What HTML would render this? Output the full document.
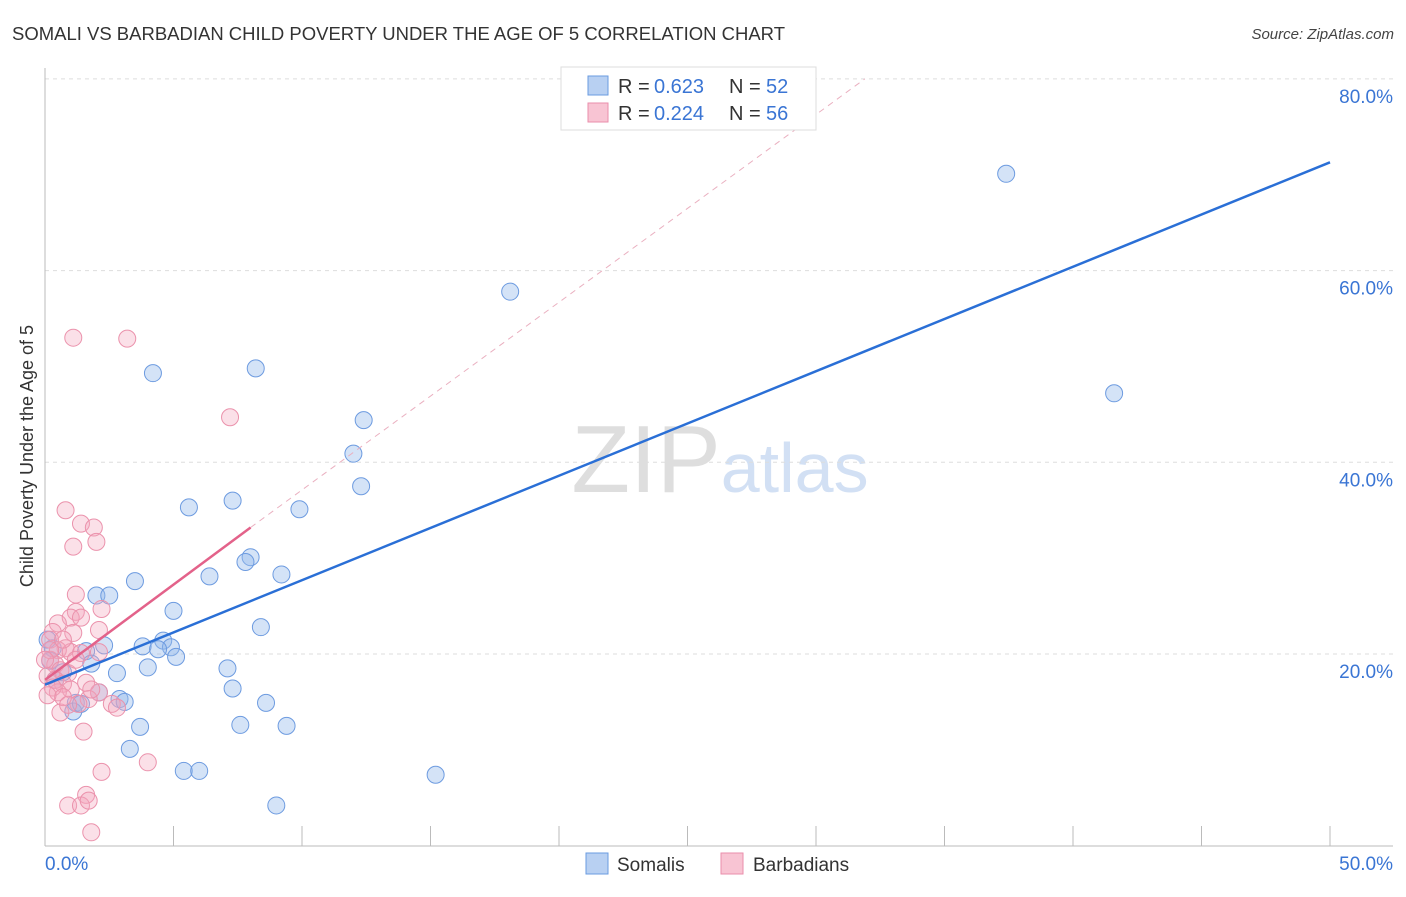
<!DOCTYPE html>
<html><head><meta charset="utf-8"><style>
body{margin:0;background:#fff;font-family:"Liberation Sans",sans-serif;}
svg text{font-family:"Liberation Sans",sans-serif;}
</style></head><body>
<svg id="chart" width="1406" height="892" viewBox="0 0 1406 892" xmlns="http://www.w3.org/2000/svg">
<text x="12" y="40" font-size="18" fill="#333" textLength="773" lengthAdjust="spacingAndGlyphs">SOMALI VS BARBADIAN CHILD POVERTY UNDER THE AGE OF 5 CORRELATION CHART</text>
<text x="1394" y="39" font-size="15" fill="#444" text-anchor="end" font-style="italic">Source: ZipAtlas.com</text>
<text x="720" y="492" font-size="96" text-anchor="middle" fill="#dedede" font-family="Liberation Serif"><tspan>ZIP</tspan><tspan fill="#d2e0f4" font-family="Liberation Sans" font-size="70">atlas</tspan></text>
<text transform="translate(33,456) rotate(-90)" font-size="18" fill="#333" text-anchor="middle">Child Poverty Under the Age of 5</text>
<g id="grid"></g><g id="marks"></g>
<g>
<rect x="561" y="67" width="255" height="63" fill="#fff" stroke="#ddd"/>
<rect x="588" y="76" width="20" height="19" fill="#b8d0f2" stroke="#6a9be0"/>
<text x="618" y="93" font-size="20" fill="#333">R = </text><text x="654" y="93" font-size="20" fill="#3a75d4">0.623</text>
<text x="729" y="93" font-size="20" fill="#333">N = </text><text x="766" y="93" font-size="20" fill="#3a75d4">52</text>
<rect x="588" y="103" width="20" height="19" fill="#f8c4d3" stroke="#ea8eab"/>
<text x="618" y="120" font-size="20" fill="#333">R = </text><text x="654" y="120" font-size="20" fill="#3a75d4">0.224</text>
<text x="729" y="120" font-size="20" fill="#333">N = </text><text x="766" y="120" font-size="20" fill="#3a75d4">56</text>
</g>
<g>
<rect x="586" y="853" width="22" height="21" fill="#b8d0f2" stroke="#6a9be0"/>
<text x="617" y="871" font-size="19" fill="#333">Somalis</text>
<rect x="721" y="853" width="22" height="21" fill="#f8c4d3" stroke="#ea8eab"/>
<text x="753" y="871" font-size="19" fill="#333">Barbadians</text>
</g>
</svg>
<script>
const yTicks=[20,40,60,80];
const yTickLabels=["20.0%","40.0%","60.0%","80.0%"];
const xTickLabels=["0.0%","50.0%"];
const somaliX=[37.4,18.1,4.2,8.2,12.4,12.0,12.3,41.6,5.6,7.3,9.9,8.0,7.8,6.4,9.2,3.5,2.0,2.5,5.0,8.4,2.3,3.8,4.6,4.9,4.4,1.6,5.1,1.8,4.0,2.8,7.1,7.3,2.1,2.9,3.1,1.2,8.6,1.1,3.7,7.6,9.4,3.3,5.4,6.0,15.2,9.0,0.3,0.2,0.4,0.7,1.4,0.1];
const somaliY=[70.1,57.8,49.3,49.8,44.4,40.9,37.5,47.2,35.3,36.0,35.1,30.1,29.6,28.1,28.3,27.6,26.1,26.1,24.5,22.8,20.9,20.8,21.4,20.7,20.5,20.3,19.7,19.0,18.6,18.0,18.5,16.4,16.0,15.3,15.0,14.9,14.9,14.0,12.4,12.6,12.5,10.1,7.8,7.8,7.4,4.2,20.6,19.3,17.3,18.1,14.8,21.5];
const barbX=[1.1,3.2,7.2,0.8,1.4,1.9,1.1,2.0,1.2,1.2,1.0,2.2,1.4,0.5,1.1,2.1,0.3,0.2,0.8,0.5,1.0,1.4,2.1,0.2,0.4,0.6,0.9,0.1,0.4,0.7,1.0,0.5,2.1,2.6,2.8,1.7,1.3,0.6,1.5,2.2,4.0,1.6,0.9,1.4,1.7,1.8,0.2,0.0,0.3,0.7,0.1,1.6,1.8,0.9,1.2,0.7];
const barbY=[53.0,52.9,44.7,35.0,33.6,33.2,31.2,31.7,26.2,24.4,23.8,24.7,23.8,23.2,22.2,22.5,22.3,21.5,20.6,20.4,20.2,20.1,20.2,19.4,18.9,18.3,18.0,17.7,17.3,16.9,16.3,16.0,16.0,14.8,14.4,15.3,14.8,13.9,11.9,7.7,8.7,5.3,4.2,4.2,4.7,1.4,20.4,19.4,16.5,15.5,15.7,17.0,16.3,14.7,19.4,21.5];
const somaliTrend=[[0,16.8],[50,71.3]];
const barbTrend=[[0,17.3],[8.0,33.2]];
const barbDash=[[8.0,33.2],[31.9,80]];
const X=v=>45+v*25.7, Y=v=>845.7-v*9.585;
const NS="http://www.w3.org/2000/svg";
function mk(t,a,p){const e=document.createElementNS(NS,t);for(const k in a)e.setAttribute(k,a[k]);p.appendChild(e);return e;}
const grid=document.getElementById('grid'), marks=document.getElementById('marks');
yTicks.forEach((t,i)=>{
 const l=mk('line',{x1:45,x2:1393,y1:Y(t),y2:Y(t),stroke:'#ddd','stroke-dasharray':'4,4'},grid);
 
 
 const tx=mk('text',{x:1393,y:Y(t)+24,'font-size':19,fill:'#3a75d4','text-anchor':'end'},grid);
 tx.textContent=yTickLabels[i];
 
 
});
const ax=mk('line',{x1:45,x2:45,y1:68,y2:846,stroke:'#bbb'},grid);


const bx=mk('line',{x1:45,x2:1393,y1:846,y2:846,stroke:'#bbb'},grid);


for(let i=0;i<=10;i++){const t=mk('line',{x1:X(i*5),x2:X(i*5),y1:826,y2:846,stroke:'#bbb'},grid);
 
 }
[[0,'start',45],[50,'end',1393]].forEach((d,i)=>{const t=mk('text',{x:d[2],y:870,'font-size':19,fill:'#3a75d4','text-anchor':d[1]},grid);
 t.textContent=xTickLabels[i];
 
 });
function pts(xs,ys,fill,stroke,name){xs.forEach((x,i)=>{const c=mk('circle',{cx:X(x),cy:Y(ys[i]),r:8.5,fill:fill,stroke:stroke,'stroke-width':1},marks);
 
 });}
pts(somaliX,somaliY,'rgba(147,186,236,0.4)','#6d9be0','somali-point');
pts(barbX,barbY,'rgba(244,167,190,0.35)','#eb92ac','barbadian-point');
function ln(d,st,w,dash,name){const a={x1:X(d[0][0]),y1:Y(d[0][1]),x2:X(d[1][0]),y2:Y(d[1][1]),stroke:st,'stroke-width':w};if(dash)a['stroke-dasharray']=dash;const l=mk('line',a,marks);
 
 }
ln(barbDash,'#eab0c0',1,'6,5','barbadian-trend-extension');
ln(somaliTrend,'#2a6fd6',2.5,null,'somali-trend-line');
ln(barbTrend,'#e3628a',2.5,null,'barbadian-trend-line');
</script>
</body></html>
